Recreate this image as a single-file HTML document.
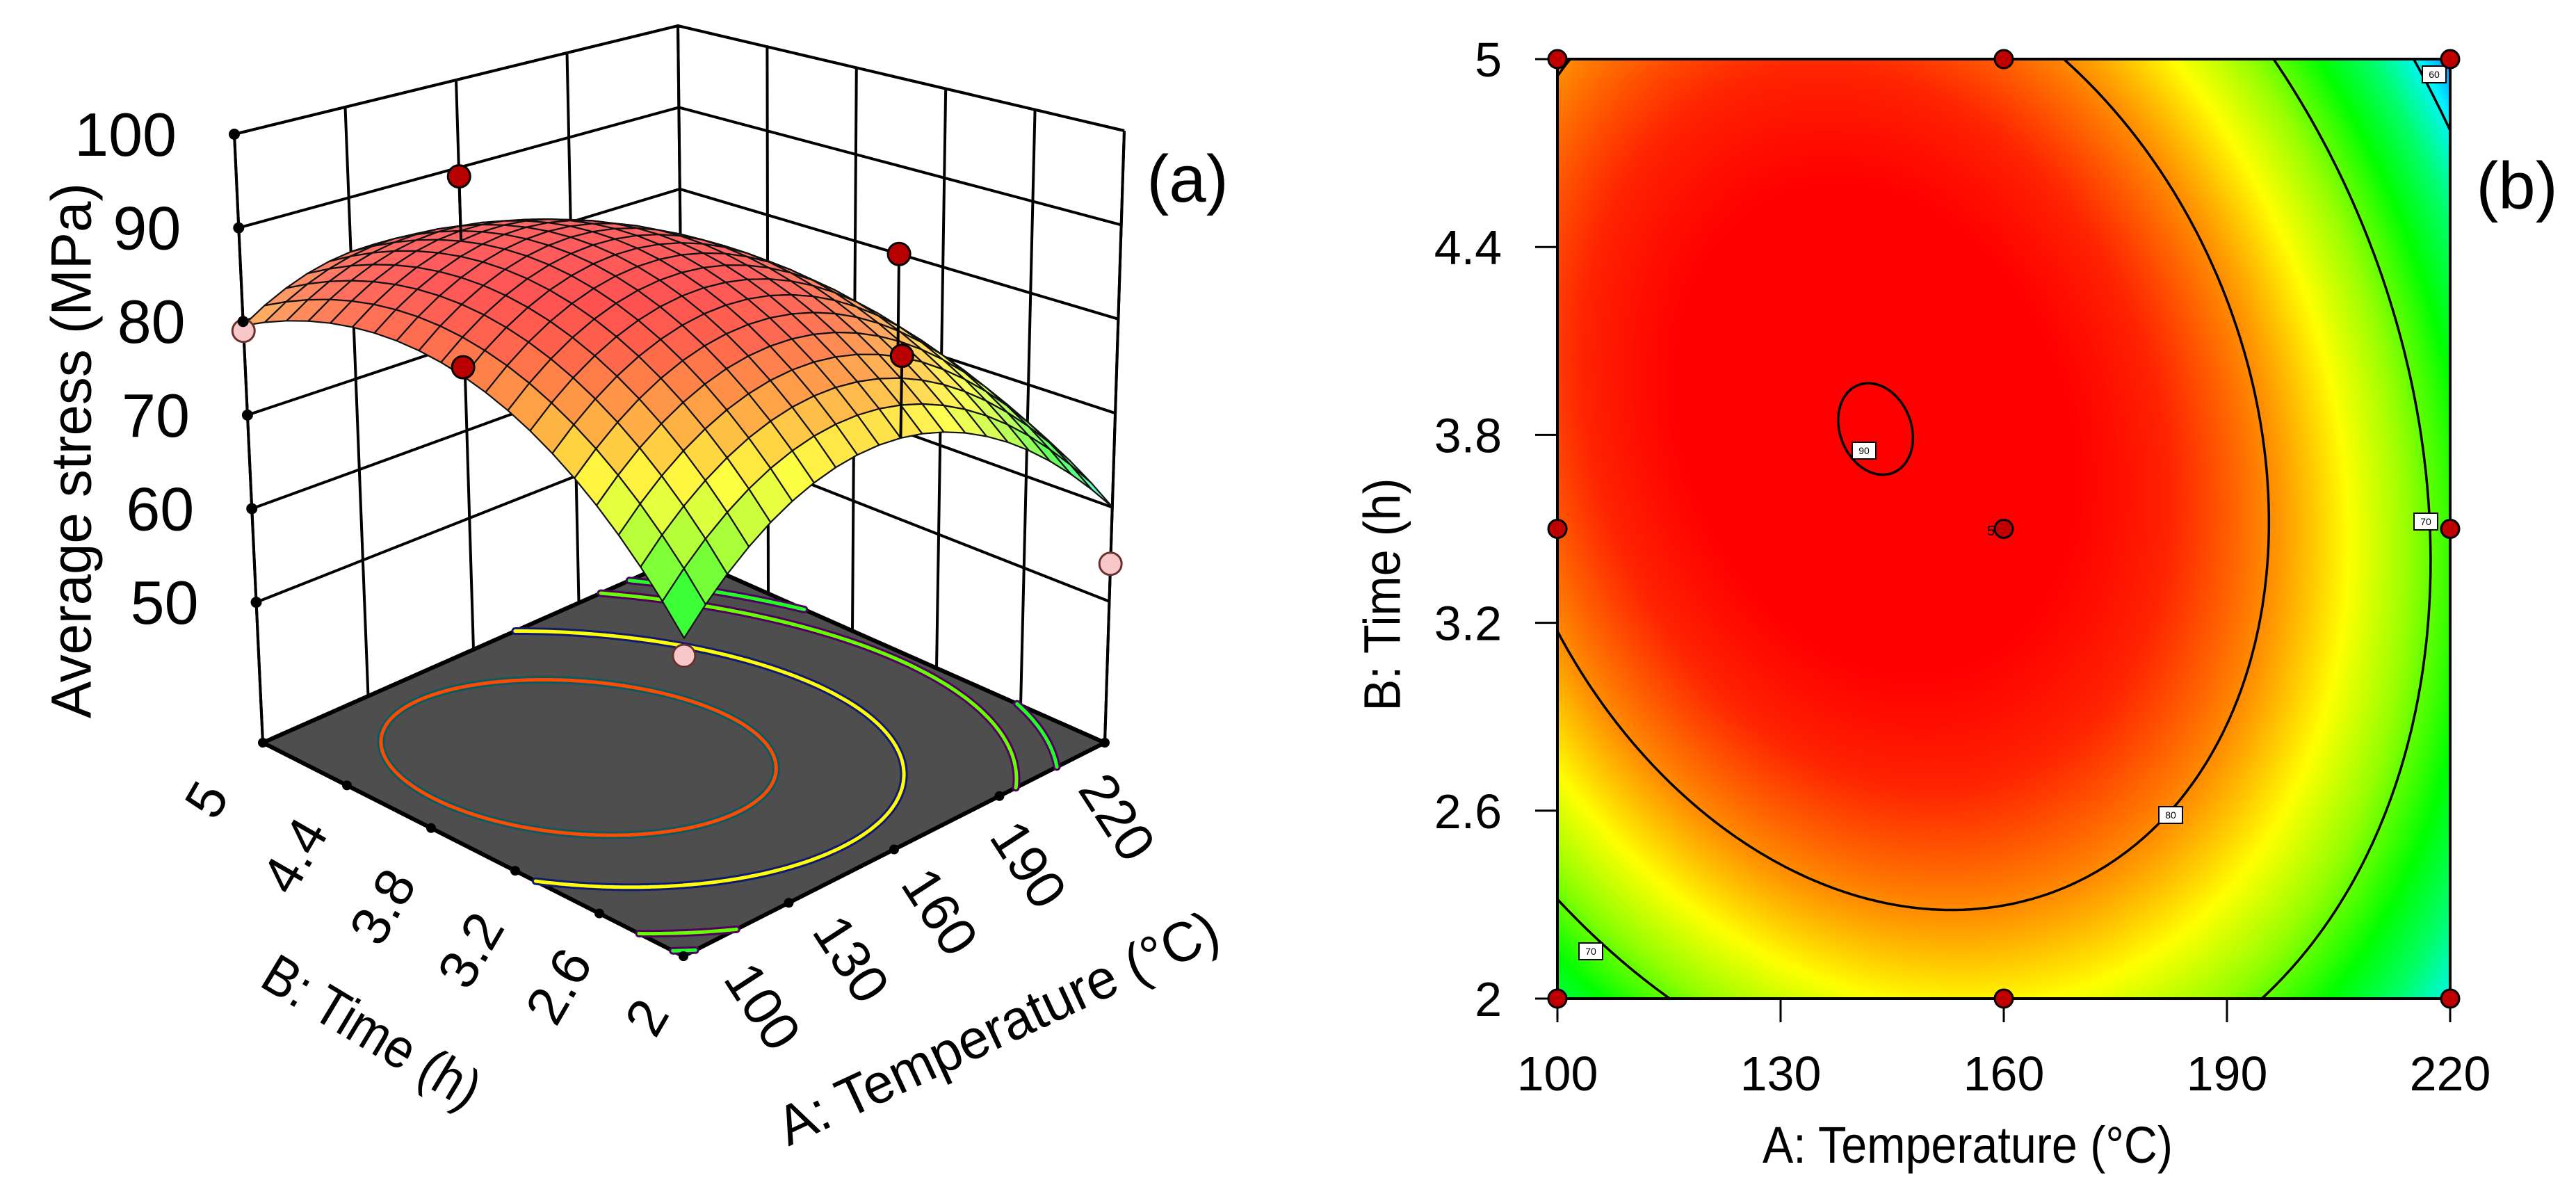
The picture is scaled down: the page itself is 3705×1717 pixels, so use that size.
<!DOCTYPE html>
<html><head><meta charset="utf-8">
<style>
html,body{margin:0;padding:0;background:#fff;}
#wrap{position:relative;width:3705px;height:1717px;overflow:hidden;background:#fff;}
#heat{position:absolute;left:2240px;top:85px;}
#svg{position:absolute;left:0;top:0;}
text{font-family:"Liberation Sans",sans-serif;fill:#000;}
</style></head>
<body>
<div id="wrap">
<canvas id="heat" width="1284" height="1351"></canvas>
<svg id="svg" width="3705" height="1717" xmlns="http://www.w3.org/2000/svg">
<g id="g3d"></g>
<g id="g2d"></g>
<text x="1708" y="290" font-size="96" text-anchor="middle">(a)</text>
<text x="3620" y="300" font-size="96" text-anchor="middle">(b)</text>
</svg>
</div>
<script>
// ---- data ----
const tempTicks = [100, 130, 160, 190, 220];
const timeTicks = [2, 2.6, 3.2, 3.8, 4.4, 5];
const zTicks = [50, 60, 70, 80, 90, 100];
const zTickLabels = ["50", "60", "70", "80", "90", "100"];
// model coefficients: b0, bA, bB, bAB, bAA, bBB (coded units)
const modelCoefs = [88.8, -6.8, 2.96, -4.5, -13.5, -10];
const contourLevels2d = [90, 80, 70, 60];
const floorLevels = [86, 79, 70, 66, 60];
const floorColors = ["#ff4a00", "#ffff00", "#66ff00", "#22ff22", "#00ffff"];
const floorShadow = ["#0a5a60", "#101a70", "#500060", "#500060", "#003060"];
const ptTemp = [100, 220, 100, 160, 220, 100, 160, 160, 220];
const ptTime = [5, 2, 2, 5, 3.5, 3.5, 2, 3.5, 5];
const ptStress = [79, 54, 63, 89, 80, 83, 84, 90, 57];

const NS = "http://www.w3.org/2000/svg";
function el(tag, attrs, parent) {
  const e = document.createElementNS(NS, tag);
  for (const k in attrs) e.setAttribute(k, attrs[k]);
  parent.appendChild(e);
  return e;
}
function S(A, B) {
  const x = (A - 160) / 60, y = (B - 3.5) / 1.5, c = modelCoefs;
  return c[0] + c[1]*x + c[2]*y + c[3]*x*y + c[4]*x*x + c[5]*y*y;
}
const stops = [[56.5,[0,120,255]],[59.5,[0,245,255]],[63.5,[0,255,100]],[67,[0,255,0]],[71.5,[150,255,0]],[75.5,[255,255,0]],[79.5,[255,150,0]],[84.5,[255,35,0]],[87.5,[255,0,0]]];
function cmap(v) {
  if (v <= stops[0][0]) return stops[0][1].slice();
  for (let i = 1; i < stops.length; i++) {
    if (v <= stops[i][0]) {
      const t = (v - stops[i-1][0]) / (stops[i][0] - stops[i-1][0]);
      return stops[i-1][1].map((c, k) => c + (stops[i][1][k] - c) * t);
    }
  }
  return stops[stops.length-1][1].slice();
}
function rgb(c) { return "rgb(" + c.map(v => Math.round(v)).join(",") + ")"; }

function contour(level, n) {
  const segs = [];
  const a0 = 100, a1 = 220, b0 = 2, b1 = 5;
  const da = (a1 - a0) / n, db = (b1 - b0) / n;
  for (let i = 0; i < n; i++) for (let j = 0; j < n; j++) {
    const A = a0 + i*da, B = b0 + j*db;
    const c = [[A,B],[A+da,B],[A+da,B+db],[A,B+db]];
    const v = c.map(p => S(p[0], p[1]) - level);
    const pts = [];
    for (let k = 0; k < 4; k++) {
      const k2 = (k + 1) % 4;
      if ((v[k] < 0) !== (v[k2] < 0)) {
        const t = v[k] / (v[k] - v[k2]);
        pts.push([c[k][0] + (c[k2][0]-c[k][0])*t, c[k][1] + (c[k2][1]-c[k][1])*t]);
      }
    }
    if (pts.length >= 2) segs.push([pts[0], pts[1]]);
    if (pts.length === 4) segs.push([pts[2], pts[3]]);
  }
  return segs;
}

// ================= Panel (a) 3D =================
const g3 = document.getElementById("g3d");
const F = {f:[983,1375], r:[1589,1068], l:[378,1068], b:[984,800]};
const T = {f:[985,372], r:[1617,188], l:[337,193], b:[975,37]};
const Z0 = 35, Z1 = 100;
function bil(C, u, v) {
  return [0,1].map(k => C.f[k]*(1-u)*(1-v) + C.r[k]*u*(1-v) + C.l[k]*(1-u)*v + C.b[k]*u*v);
}
function P(A, B, z) {
  const u = (A - 100) / 120, v = (B - 2) / 3, t = (z - Z0) / (Z1 - Z0);
  const f = bil(F, u, v), tp = bil(T, u, v);
  return [f[0] + (tp[0]-f[0])*t, f[1] + (tp[1]-f[1])*t];
}
function pstr(p) { return p[0].toFixed(1) + "," + p[1].toFixed(1); }

const walls = el("g", {stroke:"#000", "stroke-width":4, fill:"none"}, g3);


zTicks.forEach(z => {
  el("polyline", {points: [P(100,5,z), P(220,5,z), P(220,2,z)].map(pstr).join(" ")}, walls);
});
tempTicks.forEach(a => { el("line", {x1:P(a,5,Z0)[0], y1:P(a,5,Z0)[1], x2:P(a,5,100)[0], y2:P(a,5,100)[1]}, walls); });
timeTicks.forEach(b => { el("line", {x1:P(220,b,Z0)[0], y1:P(220,b,Z0)[1], x2:P(220,b,100)[0], y2:P(220,b,100)[1]}, walls); });
el("line", {x1:P(100,5,Z0)[0], y1:P(100,5,Z0)[1], x2:P(100,5,100)[0], y2:P(100,5,100)[1]}, walls);
el("line", {x1:P(220,2,Z0)[0], y1:P(220,2,Z0)[1], x2:P(220,2,100)[0], y2:P(220,2,100)[1]}, walls);

const floorG = el("g", {}, g3);


el("polygon", {points: [P(100,2,Z0),P(220,2,Z0),P(220,5,Z0),P(100,5,Z0)].map(pstr).join(" "), fill:"#4e4e4e", stroke:"#000", "stroke-width":6}, floorG);
floorLevels.forEach((lv, i) => {
  const segs = contour(lv, 90);
  let d = "";
  segs.forEach(s => { d += "M" + pstr(P(s[0][0], s[0][1], Z0)) + "L" + pstr(P(s[1][0], s[1][1], Z0)); });
  const sh = el("path", {d: d, stroke: floorShadow[i], "stroke-width": 11, fill: "none", "stroke-linecap":"round"}, floorG);
  
  
  const ln = el("path", {d: d, stroke: floorColors[i], "stroke-width": 5, fill: "none", "stroke-linecap":"round"}, floorG);
  
  
});
tempTicks.forEach(a => { const p = P(a,2,Z0); el("circle", {cx:p[0], cy:p[1], r:7, fill:"#000"}, floorG); });
timeTicks.forEach(b => { const p = P(100,b,Z0); el("circle", {cx:p[0], cy:p[1], r:7, fill:"#000"}, floorG); });

const surfG = el("g", {stroke:"#111", "stroke-width":2.2, "stroke-linejoin":"round"}, g3);


const N = 20, quads = [];
for (let i = 0; i < N; i++) for (let j = 0; j < N; j++) {
  const A0 = 100 + 120*i/N, A1 = 100 + 120*(i+1)/N, B0 = 2 + 3*j/N, B1 = 2 + 3*(j+1)/N;
  const Am = (A0+A1)/2, Bm = (B0+B1)/2;
  quads.push({i, j, depth: (Am-100)/120 + (Bm-2)/3, pts:[[A0,B0],[A1,B0],[A1,B1],[A0,B1]], v: S(Am,Bm)});
}
quads.sort((a, b) => b.depth - a.depth);
quads.forEach(q => {
  const c = cmap(q.v);
  const w = 0.22 + 0.18 * Math.max(0, 1 - Math.abs(q.depth - 1.1));
  const col = c.map(x => x + (255 - x) * w);
  const pg = el("polygon", {points: q.pts.map(p => pstr(P(p[0], p[1], S(p[0], p[1])))).join(" "), fill: rgb(col)}, surfG);
  
  
});

const ptG = el("g", {}, g3);


ptTemp.forEach((a, k) => {
  const b = ptTime[k], val = ptStress[k];
  if (a === 160 && b === 3.5) return;
  if (a === 220 && b === 5) return;
  const s = S(a, b), p = P(a, b, val), ps = P(a, b, s);
  const above = val > s;
  if (above) {
    const st = el("line", {x1:ps[0], y1:ps[1], x2:p[0], y2:p[1], stroke:"#000", "stroke-width":4}, ptG);
    
    
  }
  const c = el("circle", {cx:p[0], cy:p[1], r:16, fill: above ? "#b80000" : "#f8c8c8", stroke: above ? "#000" : "#6a3030", "stroke-width":3}, ptG);
  
  
});

const edgeG = el("g", {stroke:"#000", "stroke-width":4, fill:"none"}, g3);


el("polyline", {points:[P(100,5,100),P(220,5,100),P(220,2,100)].map(pstr).join(" ")}, edgeG);
zTicks.forEach(z => { const p = P(100,5,z); el("circle", {cx:p[0], cy:p[1], r:8, fill:"#000", stroke:"none"}, edgeG); });

const lab3 = el("g", {}, g3);
zTicks.forEach((z, k) => {
  const p = P(100,5,z);
  const t = el("text", {x: p[0]-83, y: p[1]+31, "font-size": 88, "text-anchor":"end"}, lab3);
  t.textContent = zTickLabels[k];
  
  
});
tempTicks.forEach((a, k) => {
  const u = (a - 100) / 120;
  const cx = 1097 + (1607 - 1097) * u, cy = 1447 + (1175 - 1447) * u;
  const t = el("text", {x: cx, y: cy, "font-size": 78, "text-anchor":"middle", "dominant-baseline":"central", transform:"rotate(57 " + cx + " " + cy + ")"}, lab3);
  t.textContent = String(a);
  
  
});
timeTicks.forEach((b, k) => {
  const v = (5 - b) / 3;
  const cx = 297 + (930 - 297) * v, cy = 1150 + (1463 - 1150) * v + 30 * Math.sin(Math.PI * v);
  const t = el("text", {x: cx, y: cy, "font-size": 78, "text-anchor":"middle", "dominant-baseline":"central", transform:"rotate(-60 " + cx + " " + cy + ")"}, lab3);
  t.textContent = String(b);
  
  
});
(function(){
  let t = el("text", {x:103, y:648, "font-size":82, "text-anchor":"middle", "dominant-baseline":"central", textLength:770, lengthAdjust:"spacingAndGlyphs", transform:"rotate(-90 103 648)"}, lab3);
  t.textContent = "Average stress (MPa)";
  
  
  t = el("text", {x:535, y:1483, "font-size":80, "text-anchor":"middle", "dominant-baseline":"central", textLength:350, lengthAdjust:"spacingAndGlyphs", transform:"rotate(31 535 1483)"}, lab3);
  t.textContent = "B: Time (h)";
  
  
  t = el("text", {x:1435, y:1478, "font-size":80, "text-anchor":"middle", "dominant-baseline":"central", textLength:690, lengthAdjust:"spacingAndGlyphs", transform:"rotate(-25 1435 1478)"}, lab3);
  t.textContent = "A: Temperature (°C)";
  
  
})();

// ================= Panel (b) contour =================
const X0 = 2240, X1 = 3524, Y0 = 85, Y1 = 1436;
function xs(A) { return X0 + (A - 100) / 120 * (X1 - X0); }
function ys(B) { return Y1 - (B - 2) / 3 * (Y1 - Y0); }
(function(){
  const cv = document.getElementById("heat"), ctx = cv.getContext("2d");
  const W = cv.width, H = cv.height, img = ctx.createImageData(W, H);
  for (let py = 0; py < H; py++) {
    const B = 5 - py / (H - 1) * 3;
    for (let px = 0; px < W; px++) {
      const A = 100 + px / (W - 1) * 120;
      const c = cmap(S(A, B)), o = (py * W + px) * 4;
      img.data[o] = c[0]; img.data[o+1] = c[1]; img.data[o+2] = c[2]; img.data[o+3] = 255;
    }
  }
  ctx.putImageData(img, 0, 0);
})();
const g2 = document.getElementById("g2d");
contourLevels2d.forEach(lv => {
  const segs = contour(lv, 200);
  let d = "";
  segs.forEach(s => { d += "M" + xs(s[0][0]).toFixed(1) + "," + ys(s[0][1]).toFixed(1) + "L" + xs(s[1][0]).toFixed(1) + "," + ys(s[1][1]).toFixed(1); });
  const p = el("path", {d: d, stroke:"#000", "stroke-width":3.5, fill:"none", "stroke-linecap":"round"}, g2);
  
  
});
const frame = el("rect", {x:X0, y:Y0, width:X1-X0, height:Y1-Y0, fill:"none", stroke:"#000", "stroke-width":4}, g2);


[[2681,648,"90"],[3122,1172,"80"],[3489,750,"70"],[2288,1368,"70"],[3501,107,"60"]].forEach(l => {
  const g = el("g", {}, g2);
  
  
  el("rect", {x:l[0]-17, y:l[1]-12, width:34, height:24, fill:"#fff", stroke:"#000", "stroke-width":2}, g);
  const t = el("text", {x:l[0], y:l[1]+5, "font-size":14, "text-anchor":"middle"}, g);
  t.textContent = l[2];
});
tempTicks.forEach(a => {
  el("line", {x1:xs(a), y1:Y1, x2:xs(a), y2:Y1+34, stroke:"#000", "stroke-width":3}, g2);
  const t = el("text", {x:xs(a), y:1568, "font-size":70, "text-anchor":"middle"}, g2);
  t.textContent = String(a);
  
  
});
timeTicks.forEach(b => {
  el("line", {x1:X0-32, y1:ys(b), x2:X0, y2:ys(b), stroke:"#000", "stroke-width":3}, g2);
  const t = el("text", {x:2160, y:ys(b)+25, "font-size":70, "text-anchor":"end"}, g2);
  t.textContent = String(b);
  
  
});
(function(){
  let t = el("text", {x:2830, y:1672, "font-size":74, "text-anchor":"middle", textLength:590, lengthAdjust:"spacingAndGlyphs"}, g2);
  t.textContent = "A: Temperature (°C)";
  
  
  t = el("text", {x:1988, y:855, "font-size":74, "text-anchor":"middle", "dominant-baseline":"central", textLength:335, lengthAdjust:"spacingAndGlyphs", transform:"rotate(-90 1988 855)"}, g2);
  t.textContent = "B: Time (h)";
  
  
  t = el("text", {x:2858, y:770, "font-size":20}, g2);
  t.textContent = "5";
  
  
})();
ptTemp.forEach((a, k) => {
  const c = el("circle", {cx:xs(a), cy:ys(ptTime[k]), r:13, fill:"#c00000", stroke:"#000", "stroke-width":3}, g2);
  
  
});
</script>
</body></html>
